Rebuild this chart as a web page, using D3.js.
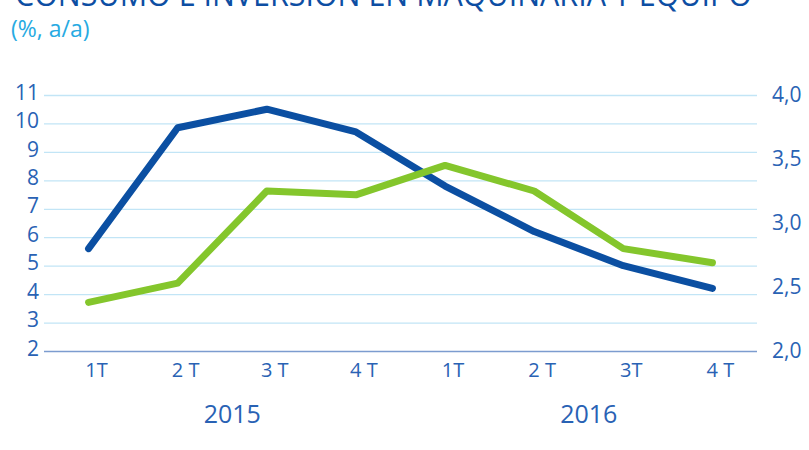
<!DOCTYPE html>
<html>
<head>
<meta charset="utf-8">
<script src="https://cdn.jsdelivr.net/npm/d3@7"></script>
<style>
    body { margin: 0; background: #fff; }
    svg text { font-family: "Open Sans", sans-serif; font-weight: 400; }
</style>
</head>
<body>
<div id="chart"></div>
<script>
// Data
const quarters = ["1T", "2 T", "3 T", "4 T", "1T", "2 T", "3T", "4 T"];
const years = ["2015", "2016"];
const inversion = [5.6, 9.85, 10.5, 9.7, 7.8, 6.2, 5.0, 4.2];       // left axis
const consumo = [2.38, 2.53, 3.25, 3.22, 3.45, 3.25, 2.8, 2.69];     // right axis
const leftTicks = [2, 3, 4, 5, 6, 7, 8, 9, 10, 11];
const rightTicks = [2.0, 2.5, 3.0, 3.5, 4.0];

const width = 809, height = 450;
const padding = {top: 95, right: 52, bottom: 99, left: 44};

const textColor = "#2962b4";

const svg = d3.select("#chart").append("svg")
    .attr("width", width)
    .attr("height", height);

// Title (partly cut off at the top, as in the original) and subtitle
svg.append("text")
    .attr("x", 15)
    .attr("y", 6)
    .attr("textLength", 737)
    .attr("lengthAdjust", "spacingAndGlyphs")
    .style("font-size", "32px")
    .attr("fill", "#0d4ea3")
    .text("CONSUMO E INVERSIÓN EN MAQUINARIA Y EQUIPO");

svg.append("text")
    .attr("x", 11)
    .attr("y", 37)
    .style("font-size", "23px")
    .attr("fill", "#27aae2")
    .text("(%, a/a)");

// Scales
const xScale = d3.scaleBand()
    .domain(d3.range(quarters.length))
    .range([padding.left, width - padding.right]);
const xc = i => xScale(i) + xScale.bandwidth() / 2;

const yLeft = d3.scaleLinear()
    .domain([2, 11])
    .range([height - padding.bottom, padding.top]);

const yRight = d3.scaleLinear()
    .domain([2, 4])
    .range([height - padding.bottom, padding.top]);

// Gridlines
svg.append("g")
    .selectAll("line")
    .data(leftTicks.slice(1))
    .enter()
    .append("line")
        .attr("x1", padding.left)
        .attr("x2", width - padding.right)
        .attr("y1", d => yLeft(d) + 0.5)
        .attr("y2", d => yLeft(d) + 0.5)
        .attr("stroke", "#c2e5f6")
        .attr("stroke-width", 1.3);

// Bottom axis line
svg.append("line")
    .attr("x1", padding.left)
    .attr("x2", width - padding.right)
    .attr("y1", yLeft(2) + 0.5)
    .attr("y2", yLeft(2) + 0.5)
    .attr("stroke", "#7c9ccf")
    .attr("stroke-width", 1.5);

// Left axis labels
const leftAxis = svg.append("g")
    .attr("transform", "translate(" + padding.left + ",0)")
    .call(d3.axisLeft(yLeft).tickValues(leftTicks).tickSize(0).tickPadding(5));
leftAxis.select(".domain").remove();
leftAxis.selectAll("text")
    .attr("dy", "0.2em")
    .attr("fill", textColor)
    .style("font-size", "21px");

// Right axis labels
const rightAxis = svg.append("g")
    .attr("transform", "translate(" + (width - padding.right) + ",0)")
    .call(d3.axisRight(yRight).tickValues(rightTicks).tickSize(0).tickPadding(15)
        .tickFormat(d => d3.format(".1f")(d).replace(".", ",")));
rightAxis.select(".domain").remove();
rightAxis.selectAll("text")
    .attr("dy", "0.3em")
    .attr("fill", textColor)
    .style("font-size", "21px");

// Quarter labels
svg.append("g")
    .selectAll("text")
    .data(quarters)
    .enter()
    .append("text")
        .attr("x", (d, i) => xc(i) + 8)
        .attr("y", 377)
        .attr("text-anchor", "middle")
        .attr("fill", textColor)
        .style("font-size", "20px")
        .text(d => d);

// Year labels, centred under their four quarters
svg.append("g")
    .selectAll("text")
    .data(years)
    .enter()
    .append("text")
        .attr("x", (d, i) => (xc(i * 4) + xc(i * 4 + 3)) / 2 + 10)
        .attr("y", 423)
        .attr("text-anchor", "middle")
        .attr("fill", textColor)
        .style("font-size", "25px")
        .text(d => d);

// Lines
const lineLeft = d3.line().x((d, i) => xc(i)).y(d => yLeft(d));
const lineRight = d3.line().x((d, i) => xc(i)).y(d => yRight(d));

svg.append("path")
    .datum(inversion)
    .attr("fill", "none")
    .attr("stroke", "#0b4fa2")
    .attr("stroke-width", 7)
    .attr("stroke-linecap", "round")
    .attr("stroke-linejoin", "round")
    .attr("d", lineLeft);

svg.append("path")
    .datum(consumo)
    .attr("fill", "none")
    .attr("stroke", "#84c62c")
    .attr("stroke-width", 7)
    .attr("stroke-linecap", "round")
    .attr("stroke-linejoin", "round")
    .attr("d", lineRight);
</script>
</body>
</html>
